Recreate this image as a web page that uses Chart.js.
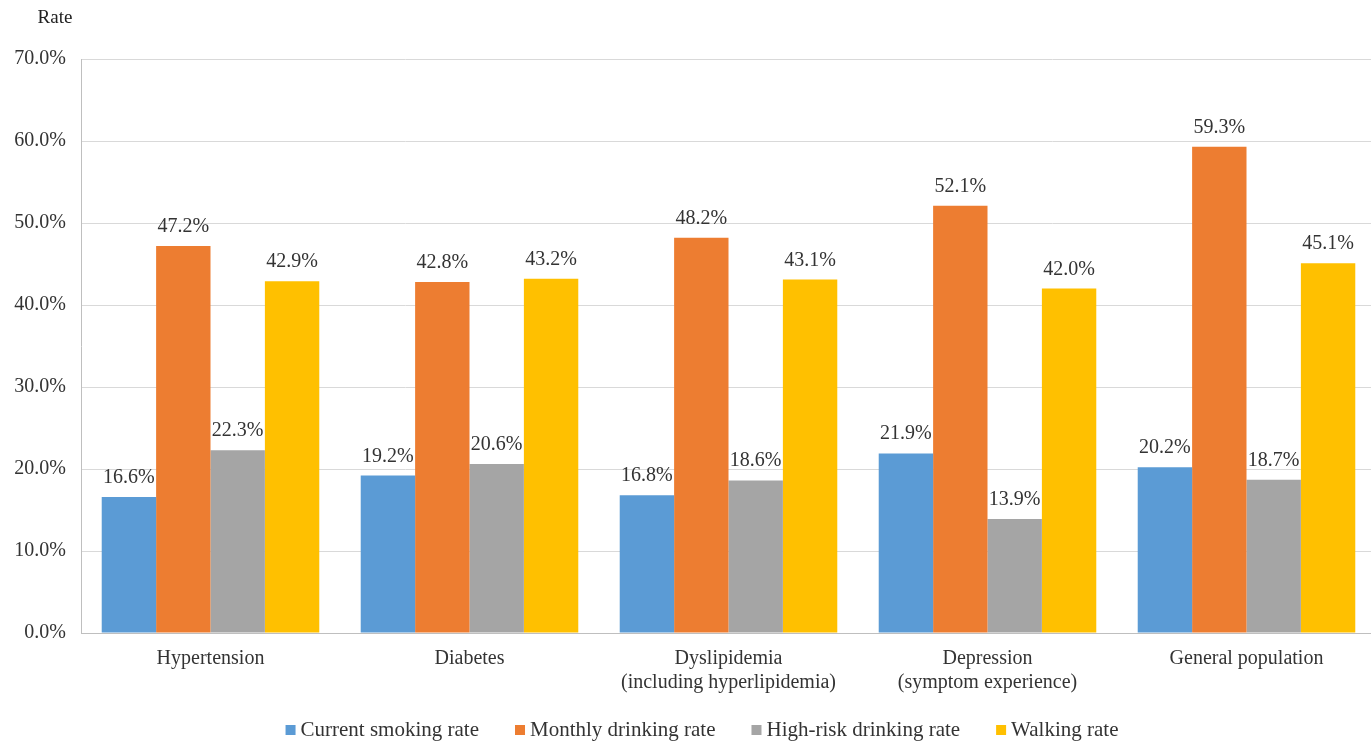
<!DOCTYPE html>
<html>
<head>
<meta charset="utf-8">
<script src="https://cdn.jsdelivr.net/npm/chart.js@4/dist/chart.umd.min.js"></script>
<style>
  html, body { margin: 0; padding: 0; background: #fff; overflow: hidden; }
  #wrap { position: relative; width: 1376px; height: 742px; }
</style>
</head>
<body>
<div id="wrap"><canvas id="c"></canvas></div>
<script>
const categories = [
  'Hypertension',
  'Diabetes',
  ['Dyslipidemia', '(including hyperlipidemia)'],
  ['Depression', '(symptom experience)'],
  'General population'
];
const smokingRate = [16.6, 19.2, 16.8, 21.9, 20.2];
const monthlyDrinkingRate = [47.2, 42.8, 48.2, 52.1, 59.3];
const highRiskDrinkingRate = [22.3, 20.6, 18.6, 13.9, 18.7];
const walkingRate = [42.9, 43.2, 43.1, 42.0, 45.1];
const yTicks = [0, 10, 20, 30, 40, 50, 60, 70];

const FONT = '"Liberation Serif", "Times New Roman", serif';
const TEXT = '#333333';

// Writes each bar's value just above it
const valueLabels = {
  id: 'valueLabels',
  afterDatasetsDraw(chart) {
    const ctx = chart.ctx;
    ctx.save();
    ctx.font = '20px ' + FONT;
    ctx.fillStyle = TEXT;
    ctx.textAlign = 'center';
    ctx.textBaseline = 'alphabetic';
    chart.data.datasets.forEach((ds, i) => {
      chart.getDatasetMeta(i).data.forEach((bar, j) => {
        ctx.fillText(ds.data[j].toFixed(1) + '%', bar.x, bar.y - 14);
      });
    });
    ctx.restore();
  }
};

// Axis caption above the value axis, and the series key along the bottom
const captionAndKey = {
  id: 'captionAndKey',
  afterDraw(chart) {
    const ctx = chart.ctx;
    ctx.save();
    ctx.font = '19px ' + FONT;
    ctx.fillStyle = '#222';
    ctx.textAlign = 'center';
    ctx.textBaseline = 'middle';
    ctx.fillText('Rate', 55, 18);

    ctx.font = '21px ' + FONT;
    const box = 10, boxGap = 5, itemGap = 36;
    const items = chart.data.datasets.map(ds => ({
      text: ds.label, color: ds.backgroundColor, w: ctx.measureText(ds.label).width
    }));
    const total = items.reduce((s, it) => s + box + boxGap + it.w, 0) + itemGap * (items.length - 1);
    let x = 702 - total / 2;
    const y = 730;
    ctx.textAlign = 'left';
    ctx.textBaseline = 'middle';
    items.forEach(it => {
      ctx.fillStyle = it.color;
      ctx.fillRect(x, y - box / 2, box, box);
      ctx.fillStyle = TEXT;
      ctx.fillText(it.text, x + box + boxGap, y);
      x += box + boxGap + it.w + itemGap;
    });
    ctx.restore();
  }
};

new Chart(document.getElementById('c'), {
  type: 'bar',
  data: {
    labels: categories,
    datasets: [
      { label: 'Current smoking rate', data: smokingRate, backgroundColor: '#5B9BD5' },
      { label: 'Monthly drinking rate', data: monthlyDrinkingRate, backgroundColor: '#ED7D31' },
      { label: 'High-risk drinking rate', data: highRiskDrinkingRate, backgroundColor: '#A5A5A5' },
      { label: 'Walking rate', data: walkingRate, backgroundColor: '#FFC000' }
    ]
  },
  options: {
    responsive: true,
    maintainAspectRatio: false,
    animation: false,
    layout: { padding: { top: 59, right: 0, bottom: 0, left: 0 } },
    datasets: { bar: { categoryPercentage: 0.84, barPercentage: 1.0, borderWidth: 0 } },
    scales: {
      x: {
        grid: { display: false, drawTicks: false },
        border: { display: true, color: '#BFBFBF', width: 1 },
        ticks: { color: TEXT, font: { family: FONT, size: 20 }, padding: 14, maxRotation: 0, autoSkip: false },
        afterFit(scale) { scale.height = 109; }
      },
      y: {
        min: 0,
        max: 70,
        afterBuildTicks(scale) { scale.ticks = yTicks.map(v => ({ value: v })); },
        grid: { color: '#D9D9D9', drawTicks: false, lineWidth: 1 },
        border: { display: true, color: '#BFBFBF', width: 1 },
        ticks: {
          color: TEXT,
          font: { family: FONT, size: 20 },
          padding: 15,
          callback: v => v.toFixed(1) + '%'
        },
        afterFit(scale) { scale.width = 81; }
      }
    },
    plugins: {
      legend: { display: false },
      tooltip: { enabled: false }
    }
  },
  plugins: [valueLabels, captionAndKey]
});
</script>
</body>
</html>
